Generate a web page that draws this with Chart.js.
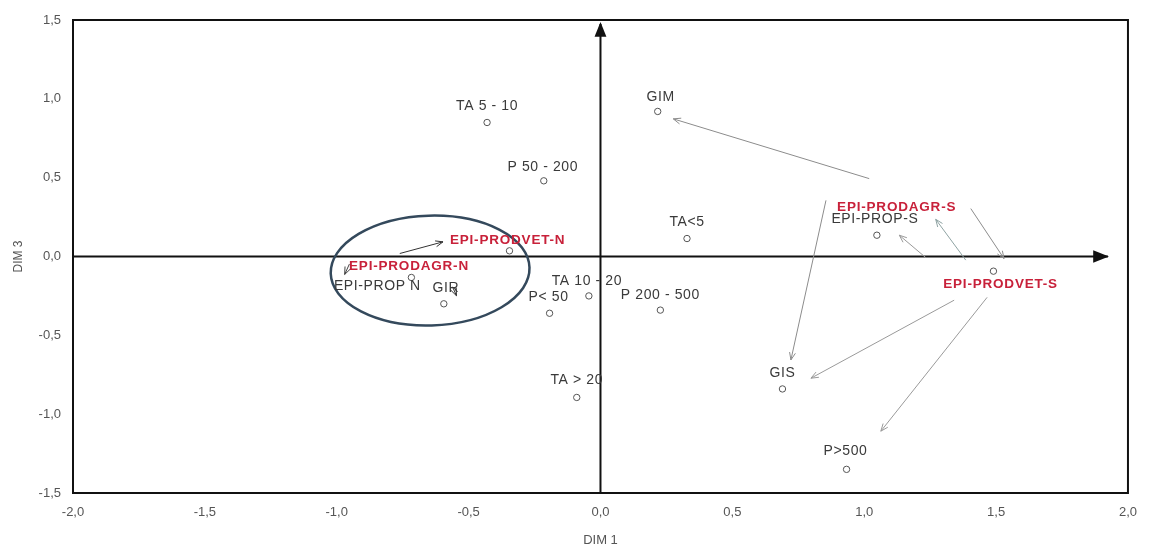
<!DOCTYPE html>
<html>
<head>
<meta charset="utf-8">
<script src="https://cdn.jsdelivr.net/npm/chart.js@4/dist/chart.umd.min.js"></script>
<style>
  html, body { margin: 0; padding: 0; background: #fff; }
  #wrap { width: 1149px; height: 551px; }
</style>
</head>
<body>
<div id="wrap"><canvas id="c" width="1149" height="551"></canvas></div>
<script>
// Category coordinates on DIM 1 / DIM 3
const pointLabels = ['TA 5 - 10', 'P 50 - 200', 'GIM', 'TA<5', 'EPI-PROP-S', '', 'P 200 - 500', 'GIS',
                     'TA > 20', 'P>500', '', 'EPI-PROP N', 'GIR', 'TA 10 - 20', 'P< 50'];
const pointX = [-0.43, -0.215, 0.217, 0.328, 1.048, 1.49, 0.227, 0.69, -0.09, 0.933, -0.345, -0.717, -0.594, -0.044, -0.193];
const pointY = [0.85, 0.48, 0.92, 0.114, 0.135, -0.093, -0.34, -0.84, -0.894, -1.35, 0.036, -0.133, -0.30, -0.25, -0.36];

// Supplementary variables (red labels) on the same plane
const varLabels = ['EPI-PRODVET-N', 'EPI-PRODAGR-N', 'EPI-PRODAGR-S', 'EPI-PRODVET-S'];
const varX = [-0.352, -0.726, 1.123, 1.517];
const varY = [0.101, -0.063, 0.310, -0.177];

// Arrows: start and end on the plane
const arrowX0 = [1.019, 0.855, 1.341, 1.466, 1.234, 1.385, 1.404, -0.761, -0.561, -0.952];
const arrowY0 = [0.494, 0.356, -0.277, -0.259, -0.008, -0.023, 0.304, 0.019, -0.192, -0.048];
const arrowX1 = [0.276, 0.722, 0.798, 1.063, 1.133, 1.271, 1.530, -0.597, -0.546, -0.970];
const arrowY1 = [0.873, -0.656, -0.772, -1.108, 0.135, 0.236, -0.013, 0.093, -0.249, -0.114];

// Grouping ellipse (centre and radii in axis units)
const ellipseCenter = [-0.646, -0.089];
const ellipseRadius = [0.377, 0.348];

// Axis ranges and ticks
const xTicks = [-2.0, -1.5, -1.0, -0.5, 0.0, 0.5, 1.0, 1.5, 2.0];
const yTicks = [-1.5, -1.0, -0.5, 0.0, 0.5, 1.0, 1.5];

// Pixel offsets of each category label from its marker
const labelOffsets = [[0, -16], [-1, -14], [3, -14], [0, -16], [-2, -16], [0, 0], [0, -15], [0, -16],
                      [0, -17], [-1, -18], [0, 0], [-34, 9], [2, -16], [-2, -15], [-1, -16]];
const arrowColors = ['#8c8c8c', '#8c8c8c', '#9a9a9a', '#9a9a9a', '#9a9a9a', '#8fa3a3', '#8c8c8c', '#333', '#333', '#444'];

const fmt = v => v.toFixed(1).replace('.', ',');

function drawArrowHead(ctx, x0, y0, x1, y1, len, filled) {
  const a = Math.atan2(y1 - y0, x1 - x0);
  const s = 0.38;
  ctx.beginPath();
  ctx.moveTo(x1 - len * Math.cos(a - s), y1 - len * Math.sin(a - s));
  ctx.lineTo(x1, y1);
  ctx.lineTo(x1 - len * Math.cos(a + s), y1 - len * Math.sin(a + s));
  if (filled) { ctx.closePath(); ctx.fill(); } else { ctx.stroke(); }
}

const decorations = {
  id: 'decorations',
  beforeDatasetsDraw(chart) {
    const { ctx, chartArea: ca, scales: { x, y } } = chart;
    ctx.save();
    // frame
    ctx.strokeStyle = '#111';
    ctx.lineWidth = 2;
    ctx.strokeRect(ca.left, ca.top, ca.right - ca.left, ca.bottom - ca.top);
    // axes through the origin
    const x0 = x.getPixelForValue(0), y0 = y.getPixelForValue(0);
    ctx.beginPath();
    ctx.moveTo(x0, ca.bottom); ctx.lineTo(x0, ca.top + 4);
    ctx.moveTo(ca.left, y0); ctx.lineTo(ca.right - 20, y0);
    ctx.stroke();
    ctx.fillStyle = '#111';
    drawArrowHead(ctx, x0, ca.bottom, x0, ca.top + 2, 16, true);
    drawArrowHead(ctx, ca.left, y0, ca.right - 19, y0, 17, true);
    // ellipse
    const cx = x.getPixelForValue(ellipseCenter[0]), cy = y.getPixelForValue(ellipseCenter[1]);
    const rx = Math.abs(x.getPixelForValue(ellipseCenter[0] + ellipseRadius[0]) - cx);
    const ry = Math.abs(y.getPixelForValue(ellipseCenter[1] + ellipseRadius[1]) - cy);
    ctx.strokeStyle = '#34495c';
    ctx.lineWidth = 2.5;
    ctx.beginPath();
    ctx.ellipse(cx, cy, rx, ry, -0.03, 0, Math.PI * 2);
    ctx.stroke();
    ctx.restore();
  },
  afterDatasetsDraw(chart) {
    const { ctx, scales: { x, y } } = chart;
    ctx.save();
    // arrows
    ctx.lineWidth = 1;
    for (let i = 0; i < arrowX0.length; i++) {
      const a = x.getPixelForValue(arrowX0[i]), b = y.getPixelForValue(arrowY0[i]);
      const c = x.getPixelForValue(arrowX1[i]), d = y.getPixelForValue(arrowY1[i]);
      ctx.strokeStyle = arrowColors[i];
      ctx.beginPath(); ctx.moveTo(a, b); ctx.lineTo(c, d); ctx.stroke();
      drawArrowHead(ctx, a, b, c, d, 8, false);
    }
    // category labels
    ctx.font = '14px "Liberation Sans", Arial, sans-serif';
    ctx.letterSpacing = '0.6px';
    ctx.fillStyle = '#3a3a3a';
    ctx.textAlign = 'center';
    ctx.textBaseline = 'middle';
    for (let i = 0; i < pointLabels.length; i++) {
      if (!pointLabels[i]) continue;
      const px = x.getPixelForValue(pointX[i]) + labelOffsets[i][0];
      const py = y.getPixelForValue(pointY[i]) + labelOffsets[i][1];
      ctx.fillText(pointLabels[i], px, py);
    }
    // supplementary variable labels
    ctx.font = 'bold 13.5px "Liberation Sans", Arial, sans-serif';
    ctx.letterSpacing = '0.8px';
    ctx.fillStyle = '#c8213a';
    for (let i = 0; i < varLabels.length; i++) {
      ctx.fillText(varLabels[i], x.getPixelForValue(varX[i]), y.getPixelForValue(varY[i]));
    }
    ctx.restore();
  }
};

new Chart(document.getElementById('c'), {
  type: 'scatter',
  data: {
    datasets: [{
      data: pointX.map((v, i) => ({ x: v, y: pointY[i] })),
      pointStyle: 'circle',
      pointRadius: 3.2,
      pointBorderWidth: 1,
      pointBorderColor: '#555',
      pointBackgroundColor: '#fff'
    }]
  },
  options: {
    responsive: false,
    animation: false,
    devicePixelRatio: 1,
    layout: { padding: { left: 0, right: 20, top: 20, bottom: 0 } },
    plugins: { legend: { display: false }, tooltip: { enabled: false } },
    scales: {
      x: {
        type: 'linear',
        min: xTicks[0], max: xTicks[xTicks.length - 1],
        afterBuildTicks: s => { s.ticks = xTicks.map(v => ({ value: v })); },
        afterFit: s => { s.height = 58; },
        grid: { display: false, drawTicks: false },
        border: { display: false },
        ticks: { callback: v => fmt(v), color: '#555', padding: 12, maxRotation: 0,
                 font: { family: '"Liberation Sans", Arial, sans-serif', size: 13 } },
        title: { display: true, text: 'DIM 1', color: '#555', padding: { top: 0, bottom: 3 },
                 font: { family: '"Liberation Sans", Arial, sans-serif', size: 13 } }
      },
      y: {
        type: 'linear',
        min: yTicks[0], max: yTicks[yTicks.length - 1],
        afterBuildTicks: s => { s.ticks = yTicks.map(v => ({ value: v })); },
        afterFit: s => { s.width = 73; },
        grid: { display: false, drawTicks: false },
        border: { display: false },
        ticks: { callback: v => fmt(v), color: '#555', padding: 12,
                 font: { family: '"Liberation Sans", Arial, sans-serif', size: 13 } },
        title: { display: true, text: 'DIM 3', color: '#555', padding: { top: 11, bottom: 0 },
                 font: { family: '"Liberation Sans", Arial, sans-serif', size: 12 } }
      }
    }
  },
  plugins: [decorations]
});
</script>
</body>
</html>
